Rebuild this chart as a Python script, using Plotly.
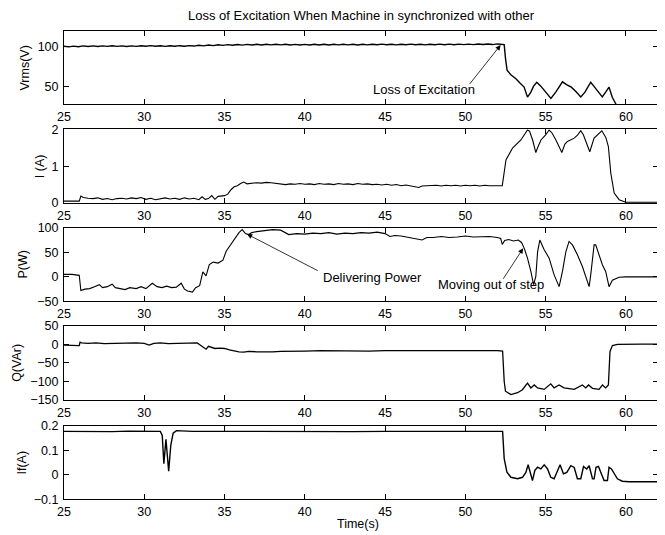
import plotly.graph_objects as go

# ---------------- data ----------------
T_VRMS = [
    25.0, 25.3, 25.6, 25.9, 26.2, 26.5, 26.8, 27.1, 27.4, 27.7,
    28.0, 28.3, 28.6, 28.9, 29.2, 29.5, 29.8, 30.1, 30.4, 30.7,
    31.0, 31.3, 31.6, 31.9, 32.2, 32.5, 32.8, 33.1, 33.4, 33.7,
    34.0, 34.3, 34.6, 34.9, 35.2, 35.5, 35.8, 36.1, 36.4, 36.7,
    37.0, 37.3, 37.6, 37.9, 38.2, 38.5, 38.8, 39.1, 39.4, 39.7,
    40.0, 40.3, 40.6, 40.9, 41.2, 41.5, 41.8, 42.1, 42.4, 42.7,
    43.0, 43.3, 43.6, 43.9, 44.2, 44.5, 44.8, 45.1, 45.4, 45.7,
    46.0, 46.3, 46.6, 46.9, 47.2, 47.5, 47.8, 48.1, 48.4, 48.7,
    49.0, 49.3, 49.6, 49.9, 50.2, 50.5, 50.8, 51.1, 51.4, 51.7,
    52.0, 52.25,
    52.42, 52.5, 52.6, 52.85, 53.15, 53.4, 53.66, 53.87, 54.08, 54.25,
    54.45, 54.7, 54.91, 55.1, 55.33, 55.63, 55.85, 56.05, 56.3, 56.6,
    56.9, 57.19, 57.45, 57.81, 58.0, 58.23, 58.53, 58.74, 58.95, 59.15,
    59.47,
]
VRMS = [
    100.4, 99.6, 100.5, 99.7, 100.8, 100.0, 100.9, 100.1, 100.9, 100.2,
    101.0, 100.2, 100.9, 100.1, 100.9, 100.2, 101.0, 100.3, 101.1, 100.3,
    101.0, 100.2, 101.0, 100.3, 101.1, 100.4, 101.2, 100.6, 101.6, 100.9,
    101.9, 101.2, 102.2, 101.5, 102.4, 101.7, 102.6, 101.8, 102.7, 101.9,
    102.8, 102.0, 102.9, 102.1, 102.9, 102.1, 102.8, 102.0, 102.7, 101.9,
    102.7, 101.9, 102.8, 102.0, 102.8, 102.0, 102.9, 102.1, 102.9, 102.1,
    102.8, 102.0, 102.8, 102.1, 102.9, 102.2, 103.0, 102.2, 102.9, 102.1,
    102.9, 102.2, 103.0, 102.2, 102.9, 102.1, 102.9, 102.2, 103.0, 102.3,
    103.0, 102.3, 103.1, 102.4, 103.1, 102.4, 103.2, 102.5, 103.2, 102.5,
    103.3, 102.8,
    102.5, 85.0, 70.0, 64.0, 59.3, 54.0, 48.8, 36.2, 42.5, 50.0,
    55.0, 50.0, 44.6, 40.0, 34.5, 42.5, 50.0, 55.5, 52.0, 48.8,
    43.0, 36.5, 42.5, 55.0, 50.0, 44.6, 36.5, 42.5, 48.8, 36.0,
    24.0,
]

T_I = [
    25.0, 25.5, 25.95, 26.05, 26.2, 26.5, 26.8, 27.1, 27.4, 27.7,
    28.0, 28.3, 28.6, 28.9, 29.2, 29.5, 29.8, 30.1, 30.4, 30.7,
    31.0, 31.3, 31.6, 31.9, 32.2, 32.5, 32.8, 33.1, 33.4, 33.6,
    33.8, 34.0, 34.2, 34.4, 34.6, 34.8, 35.0, 35.2, 35.4, 35.6,
    35.8, 36.0, 36.2, 36.4, 36.7, 37.0, 37.3, 37.6, 37.9, 38.2,
    38.5, 38.8, 39.1, 39.4, 39.7, 40.0, 40.3, 40.6, 40.9, 41.2,
    41.5, 41.8, 42.1, 42.4, 42.7, 43.0, 43.3, 43.6, 43.9, 44.2,
    44.5, 44.8, 45.1, 45.4, 45.7, 46.0, 46.3, 46.6, 46.9, 47.1,
    47.3, 47.6, 47.9, 48.2, 48.5, 48.8, 49.1, 49.4, 49.7, 50.0,
    50.3, 50.6, 50.9, 51.2, 51.5, 51.8, 52.1, 52.3, 52.4, 52.53,
    52.94, 53.2, 53.46, 53.87, 54.0, 54.19, 54.39, 54.5, 54.71, 55.0,
    55.22, 55.4, 55.64, 56.01, 56.2, 56.36, 56.78, 57.0, 57.19, 57.35,
    57.5, 57.75, 58.02, 58.25, 58.5, 58.75, 58.91, 59.06, 59.27, 59.58,
    59.99, 60.5, 61.0, 61.5, 62.0,
]
I_A = [
    0.05, 0.05, 0.05, 0.19, 0.15, 0.13, 0.12, 0.14, 0.10, 0.12,
    0.09, 0.12, 0.13, 0.11, 0.14, 0.12, 0.15, 0.10, 0.13, 0.09,
    0.12, 0.14, 0.11, 0.13, 0.10, 0.14, 0.11, 0.13, 0.09, 0.17,
    0.10, 0.12, 0.20, 0.10, 0.18, 0.19, 0.20, 0.24, 0.36, 0.44,
    0.47, 0.53, 0.57, 0.52, 0.54, 0.55, 0.54, 0.56, 0.55, 0.54,
    0.52, 0.50, 0.52, 0.51, 0.53, 0.51, 0.52, 0.50, 0.53, 0.51,
    0.52, 0.50, 0.53, 0.51, 0.52, 0.50, 0.53, 0.51, 0.52, 0.50,
    0.51, 0.49, 0.51, 0.48, 0.50, 0.47, 0.49, 0.47, 0.45, 0.42,
    0.46, 0.47, 0.46, 0.48, 0.46, 0.48, 0.47, 0.48, 0.46, 0.48,
    0.47, 0.48, 0.46, 0.48, 0.47, 0.48, 0.47, 0.47, 0.80, 1.17,
    1.49, 1.60, 1.71, 1.98, 1.95, 1.71, 1.37, 1.50, 1.71, 1.85,
    1.98, 1.90, 1.71, 1.37, 1.60, 1.67, 1.76, 1.85, 1.96, 1.85,
    1.67, 1.39, 1.76, 1.85, 1.96, 1.78, 1.53, 0.81, 0.27, 0.09,
    0.02, 0.02, 0.03, 0.02, 0.02,
]

T_P = [
    25.0, 25.5, 25.95, 26.05, 26.3, 26.6, 26.9, 27.2, 27.4, 27.7,
    28.0, 28.2, 28.5, 28.8, 29.1, 29.5, 29.8, 30.1, 30.5, 30.8,
    31.1, 31.4, 31.7, 32.0, 32.3, 32.5, 32.7, 33.0, 33.2, 33.45,
    33.65, 33.85, 34.05, 34.3, 34.6, 34.9, 35.1, 35.3, 35.5, 35.7,
    35.9, 36.1, 36.3, 36.5, 36.7, 37.0, 37.5, 38.0, 38.5, 39.0,
    39.5, 40.0, 40.5, 41.0, 41.5, 42.0, 42.5, 43.0, 43.5, 44.0,
    44.5, 45.0, 45.3, 45.6, 46.0, 46.5, 47.0, 47.3, 47.6, 48.0,
    48.5, 49.0, 49.5, 50.0, 50.5, 51.0, 51.5, 52.0, 52.2, 52.3,
    52.45, 52.7, 53.0, 53.3, 53.5, 53.67, 53.87, 54.08, 54.25, 54.39,
    54.5, 54.64, 54.91, 55.22, 55.53, 55.84, 56.05, 56.26, 56.46, 56.67,
    56.98, 57.29, 57.71, 57.81, 58.02, 58.12, 58.33, 58.54, 58.74, 58.95,
    59.16, 59.57, 60.0, 61.0, 62.0,
]
P_W = [
    5, 5, 3, -28, -25, -24, -20, -16, -22, -20,
    -15, -22, -24, -26, -22, -24, -20, -24, -13, -20,
    -22, -19, -22, -21, -13, -25, -29, -31, -22, -18,
    10, 2, 25, 30, 28, 34, 52, 62, 72, 80,
    90, 96, 88, 86, 90, 92, 94, 96, 95, 86,
    88, 87, 89, 88, 90, 87, 89, 88, 90, 89,
    91, 88, 82, 84, 83, 80, 78, 75, 80, 80,
    82, 80, 81, 83, 81, 82, 82, 80, 78, 66,
    74, 76, 73, 75, 70, 58, 38, 11, -16, 1,
    51, 75, 55, 38, 4, -20, 11, 51, 72, 65,
    45, 21, -20, 4, 65, 65, 45, 24, 11, -20,
    -7, -1, 0, 0, 0,
]

T_Q = [
    25.0, 25.5, 25.95, 26.0, 26.1, 26.5, 27.0, 27.5, 28.0, 28.5,
    29.0, 29.5, 30.0, 30.3, 30.6, 31.0, 31.5, 32.0, 32.5, 33.0,
    33.3, 33.5, 33.7, 33.85, 34.0, 34.2, 34.4, 34.7, 35.0, 35.3,
    35.6, 35.9, 36.2, 36.5, 37.0, 37.5, 38.0, 38.5, 39.0, 40.0,
    41.0, 42.0, 43.0, 44.0, 45.0, 46.0, 47.0, 48.0, 49.0, 50.0,
    51.0, 52.0, 52.32, 52.42, 52.5, 52.84, 53.25, 53.56, 53.87, 54.08,
    54.29, 54.5, 54.91, 55.32, 55.53, 55.84, 56.15, 56.78, 57.29, 57.5,
    57.67, 57.92, 58.33, 58.54, 58.74, 58.91, 59.01, 59.16, 59.47, 60.0,
    61.0, 62.0,
]
Q_VAR = [
    -2, -2, -3, 6, 4, 3, 4, 2, 3, 4,
    3, 4, 3, -2, 3, 4, 2, 3, 4, 3,
    4, -2, -8, -13, -5, -8, -11, -10, -11, -15,
    -18, -20, -21, -19, -20, -21, -20, -19, -18, -18,
    -17, -18, -17, -18, -17, -17, -15, -17, -16, -17,
    -16, -17, -18, -100, -127, -136, -131, -123, -105, -118,
    -110, -118, -122, -107, -118, -110, -118, -122, -110, -118,
    -110, -119, -122, -110, -118, -110, -19, -3, 0, 1,
    1, 1,
]

T_IF = [
    25.0, 26.0, 27.0, 28.0, 29.0, 30.0, 31.0, 31.12, 31.22, 31.35,
    31.52, 31.65, 31.8, 32.0, 33.0, 35.0, 37.0, 39.0, 41.0, 43.0,
    45.0, 47.0, 49.0, 51.0, 52.32, 52.42, 52.59, 52.84, 53.25, 53.56,
    53.77, 53.91, 54.08, 54.18, 54.33, 54.5, 54.7, 54.91, 55.12, 55.32,
    55.53, 55.74, 55.9, 56.11, 56.32, 56.57, 56.78, 56.98, 57.19, 57.36,
    57.56, 57.71, 57.92, 58.02, 58.14, 58.29, 58.43, 58.64, 58.85, 58.95,
    59.1, 59.47, 59.78, 60.2, 61.0, 62.0,
]
IF_A = [
    0.177, 0.176, 0.177, 0.176, 0.178, 0.176, 0.177, 0.160, 0.045, 0.145,
    0.015, 0.120, 0.170, 0.180, 0.177, 0.177, 0.176, 0.177, 0.177, 0.176,
    0.177, 0.177, 0.176, 0.177, 0.177, 0.066, 0.011, -0.010, -0.016, -0.010,
    0.010, 0.041, 0.004, -0.023, 0.018, 0.031, 0.024, 0.041, 0.024, -0.010,
    -0.016, 0.018, 0.041, 0.004, 0.010, 0.037, 0.030, -0.016, -0.016, 0.034,
    0.024, 0.037, -0.016, -0.016, 0.031, 0.034, 0.010, -0.023, -0.023, 0.031,
    0.024, -0.016, -0.026, -0.028, -0.028, -0.028,
]

Y_LABELS = ["Vrms(V)", "I (A)", "P(W)", "Q(VAr)", "If(A)"]
Y_RANGES = [[27, 120], [0, 2], [-50, 100], [-150, 50], [-0.1, 0.2]]
Y_TICKS = [[50, 100], [0, 1, 2], [-50, 0, 50, 100], [-150, -100, -50, 0, 50],
           [-0.1, 0, 0.1, 0.2]]
X_TICKS = [25, 30, 35, 40, 45, 50, 55, 60]
TITLE = "Loss of Excitation When Machine in synchronized with other"
X_LABEL = "Time(s)"

series = [(T_VRMS, VRMS), (T_I, I_A), (T_P, P_W), (T_Q, Q_VAR), (T_IF, IF_A)]
for t, v in series:
    assert len(t) == len(v), (len(t), len(v))

# ---------------- layout geometry (absolute page pixels) ----------------
OFF = 8                      # default page body margin
W, H = 665 - OFF, 535 - OFF
ML, MR, MT, MB = 64 - OFF, 7, 30 - OFF, 35
PW = W - ML - MR
PH = H - MT - MB
TOPS = [30.7, 129.3, 227.7, 326.0, 425.7]
SUB_H = 73.7
LABEL_X = [25, 40, 23, 17, 22]
LINE_W = [1.4, 1.1, 1.1, 1.3, 1.4]
FONT = "Liberation Sans, Arial, Helvetica, sans-serif"


def py2paper(py):
    return (H - MB - (py - OFF)) / PH


def px2paper(px):
    return (px - OFF - ML) / PW


def clamp(v):
    return min(1.0, max(0.0, v))


fig = go.Figure()
layout = dict(
    width=W, height=H,
    margin=dict(l=ML, r=MR, t=MT, b=MB),
    paper_bgcolor="white", plot_bgcolor="white",
    showlegend=False,
    font=dict(family=FONT, size=12, color="black"),
)
annotations = []

for k, (t, v) in enumerate(series):
    n = "" if k == 0 else str(k + 1)
    fig.add_trace(go.Scatter(x=t, y=v, mode="lines",
                             line=dict(color="black", width=LINE_W[k]),
                             xaxis="x" + n, yaxis="y" + n, hoverinfo="skip"))
    top = TOPS[k]
    dom = [clamp(py2paper(top + SUB_H)), clamp(py2paper(top))]
    common = dict(showline=True, linecolor="black", linewidth=1, mirror="ticks",
                  ticks="inside", ticklen=5, tickcolor="black", tickwidth=1,
                  showgrid=False, zeroline=False,
                  tickfont=dict(family=FONT, size=12.5, color="black"))
    layout["xaxis" + n] = dict(common, domain=[0, 1], anchor="y" + n,
                               range=[25, 62], tickvals=X_TICKS,
                               ticklabelstandoff=1)
    yt = Y_TICKS[k]
    layout["yaxis" + n] = dict(common, domain=dom, anchor="x" + n,
                               range=Y_RANGES[k], tickvals=yt,
                               ticktext=[("\u2212" + format(abs(a), "g")) if a < 0 else format(a, "g") for a in yt],
                               ticklabelstandoff=2)
    annotations.append(dict(text=Y_LABELS[k], xref="paper", yref="paper",
                            x=px2paper(LABEL_X[k]), y=py2paper(top + SUB_H / 2),
                            textangle=-90, showarrow=False,
                            xanchor="center", yanchor="middle",
                            font=dict(family=FONT, size=12.5, color="black")))

annotations.append(dict(text=TITLE, xref="paper", yref="paper",
                        x=px2paper(361), y=py2paper(15.5), showarrow=False,
                        xanchor="center", yanchor="middle", borderpad=0,
                        font=dict(family=FONT, size=13, color="black")))
annotations.append(dict(text=X_LABEL, xref="paper", yref="paper",
                        x=px2paper(358), y=py2paper(523.5), showarrow=False,
                        xanchor="center", yanchor="middle", borderpad=0,
                        font=dict(family=FONT, size=12.5, color="black")))

# text callouts with arrows
callouts = [
    # (axis suffix, text, text x, text y, tail x, tail y, head x, head y)
    ("", "Loss of Excitation", 47.4, 46, 50.2, 51, 52.2, 102),
    ("3", "Delivering Power", 44.2, -1, 40.9, 11, 36.4, 87),
    ("3", "Moving out of step", 51.6, -16, 52.3, -7, 53.6, 58),
]
for n, txt, tx, ty, ax, ay, hx, hy in callouts:
    annotations.append(dict(text=txt, xref="x" + n, yref="y" + n, x=tx, y=ty,
                            showarrow=False, xanchor="center", yanchor="middle",
                            font=dict(family=FONT, size=13, color="black")))
    annotations.append(dict(text="", xref="x" + n, yref="y" + n, x=hx, y=hy,
                            axref="x" + n, ayref="y" + n, ax=ax, ay=ay,
                            showarrow=True, arrowhead=2, arrowsize=1.3,
                            arrowwidth=0.8, arrowcolor="black", standoff=0,
                            startstandoff=0))

layout["annotations"] = annotations
fig.update_layout(**layout)
fig.write_html("out.html")
